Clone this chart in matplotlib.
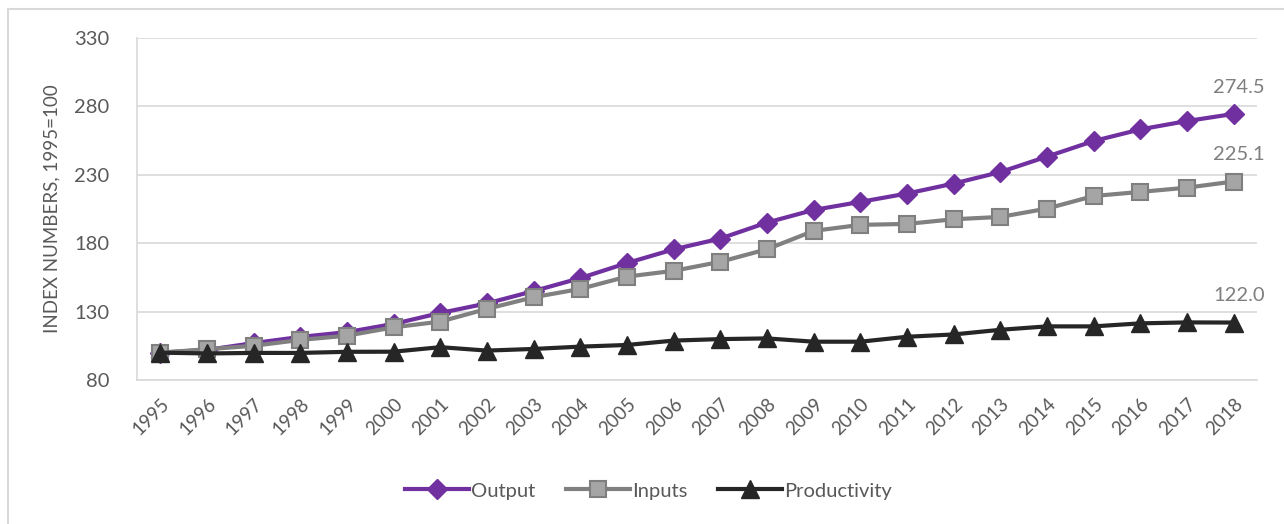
import matplotlib
matplotlib.use("Agg")
import matplotlib.pyplot as plt
from matplotlib.patches import Rectangle

plt.rcParams['font.family'] = ['Lato', 'DejaVu Sans']

# Index numbers, 1995 = 100
years = list(range(1995, 2019))
output = [100.0, 102.0, 107.0, 111.5, 115.0, 121.0, 129.0, 136.0, 145.0, 154.5, 165.5, 175.5,
          183.4, 195.1, 204.3, 210.2, 216.3, 223.6, 232.0, 243.3, 254.7, 263.2, 269.3, 274.5]
inputs = [100.0, 102.5, 105.0, 109.3, 112.4, 118.5, 122.7, 132.0, 140.5, 146.6, 155.6, 159.8,
          166.4, 175.6, 189.0, 193.4, 194.1, 197.5, 199.2, 205.3, 214.5, 217.5, 220.6, 225.1]
productivity = [100.0, 99.4, 99.8, 99.8, 100.6, 100.7, 104.0, 101.5, 102.7, 104.4, 105.6, 108.8,
                109.9, 110.4, 108.0, 108.0, 111.6, 113.3, 116.7, 119.2, 119.2, 121.4, 122.1, 122.0]

grid_col = '#D9D9D9'
text_col = '#595959'

fig = plt.figure(figsize=(12.84, 5.24), dpi=100)
ax = fig.add_axes([137 / 1284, 1 - 380 / 524, 1120 / 1284, 342 / 524])

x = range(len(years))
ax.plot(x, output, color='#7030A0', lw=3, marker='D', ms=10,
        mfc='#7030A0', mec='#7030A0', label='Output', zorder=3)
ax.plot(x, inputs, color='#808080', lw=3, marker='s', ms=11.5,
        mfc='#A5A5A5', mec='#7F7F7F', mew=1.5, label='Inputs', zorder=3)
ax.plot(x, productivity, color='#262626', lw=3, marker='^', ms=12.5,
        mfc='#262626', mec='#262626', label='Productivity', zorder=4)

# value labels on the last year
for series in (output, inputs, productivity):
    ax.annotate(f'{series[-1]:.1f}', (len(years) - 1, series[-1]),
                xytext=(4, 13), textcoords='offset points',
                ha='center', va='bottom', fontsize=14.5, color='#7F7F7F')

ax.set_xlim(-0.5, len(years) - 0.5)
ax.set_ylim(80, 330)
ax.set_yticks(range(80, 331, 50))
ax.set_xticks(list(x))
ax.set_xticklabels([str(y) for y in years], rotation=45, ha='right',
                   rotation_mode='anchor', fontsize=13.5, color=text_col)
ax.tick_params(axis='y', labelsize=14.5, labelcolor=text_col, length=0, pad=20)
ax.tick_params(axis='x', length=0, pad=11)
ax.grid(axis='y', color=grid_col, lw=1.2)
ax.set_axisbelow(True)
for side in ('top', 'right'):
    ax.spines[side].set_visible(False)
for side in ('left', 'bottom'):
    ax.spines[side].set_color(grid_col)
    ax.spines[side].set_linewidth(1.2)

ax.set_ylabel('INDEX NUMBERS, 1995=100', fontsize=13.5, color=text_col, labelpad=10)

fig.legend(loc='center', bbox_to_anchor=(0.505, 0.063), ncol=3, frameon=False,
           fontsize=14.5, handlelength=3.2, columnspacing=1.5, handletextpad=0.1,
           labelcolor=text_col)

# chart area border
fig.patches.append(Rectangle((8 / 1284, -0.1), 1.2, 1.1 - 9 / 524,
                             transform=fig.transFigure, fill=False,
                             ec=grid_col, lw=1.5))

fig.savefig('out.png', dpi=100)
